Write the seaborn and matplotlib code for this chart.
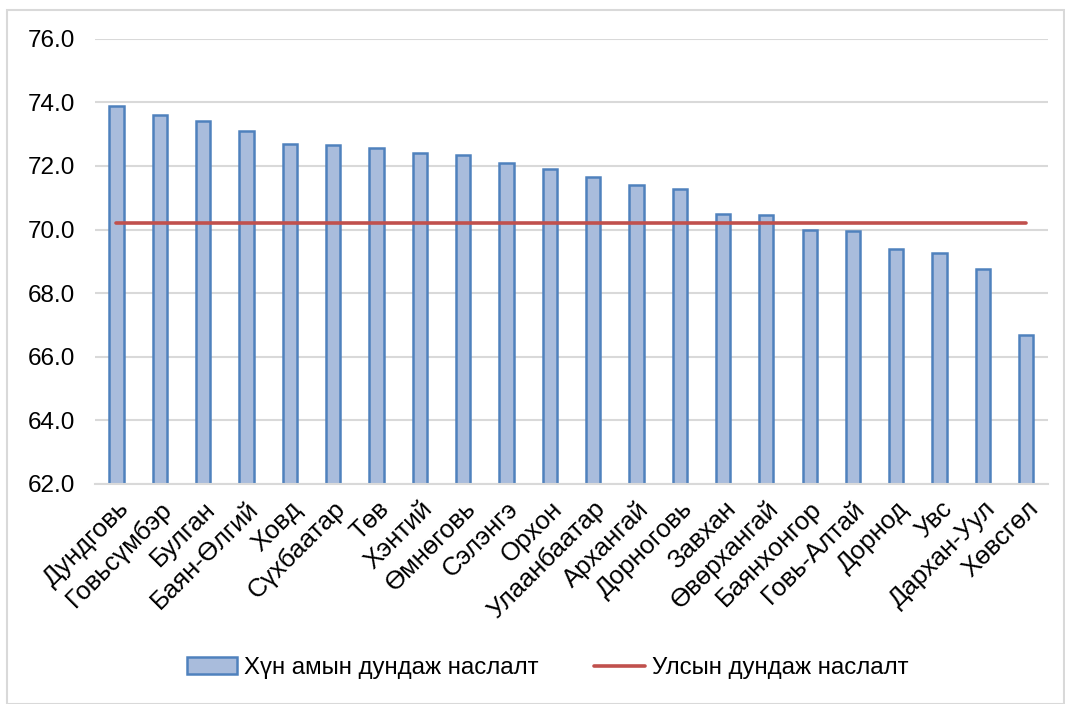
import matplotlib
matplotlib.use("Agg")
import matplotlib.pyplot as plt
import seaborn as sns
from matplotlib.patches import Rectangle, Patch
from matplotlib.lines import Line2D

regions = ["Дундговь", "Говьсүмбэр", "Булган", "Баян-Өлгий", "Ховд", "Сүхбаатар",
           "Төв", "Хэнтий", "Өмнөговь", "Сэлэнгэ", "Орхон", "Улаанбаатар",
           "Архангай", "Дорноговь", "Завхан", "Өвөрхангай", "Баянхонгор",
           "Говь-Алтай", "Дорнод", "Увс", "Дархан-Уул", "Хөвсгөл"]
life_exp = [73.9, 73.6, 73.4, 73.1, 72.7, 72.65, 72.55, 72.4, 72.33, 72.1, 71.9,
            71.65, 71.4, 71.26, 70.5, 70.47, 70.0, 69.95, 69.4, 69.25, 68.76, 66.7]
national_avg = 70.2
yticks = [62, 64, 66, 68, 70, 72, 74, 76]

bar_label = "Хүн амын дундаж наслалт"
line_label = "Улсын дундаж наслалт"

sns.set_style("white")
plt.rcParams["font.family"] = ["Liberation Sans", "DejaVu Sans"]
plt.rcParams["text.color"] = "black"
plt.rcParams["xtick.color"] = "black"
plt.rcParams["ytick.color"] = "black"

fig = plt.figure(figsize=(10.65, 7.04), dpi=100)
ax = fig.add_axes([0.089, 0.3125, 0.895, 0.6325])

sns.barplot(x=regions, y=life_exp, color="#a9bcdc", edgecolor="#4f81bd",
            linewidth=1.8, width=0.33, saturation=1, ax=ax, zorder=2)
sns.lineplot(x=regions, y=[national_avg] * len(regions), sort=False,
             color="#c0504d", linewidth=2.6, ax=ax, zorder=3)

ax.set_ylim(62, 76)
ax.set_xlim(-0.5, len(regions) - 0.5)
ax.set_yticks(yticks)
ax.set_yticklabels([f"{v:.1f}" for v in yticks], fontsize=17.5)
ax.tick_params(axis="y", length=0, pad=14, labelcolor="black")
ax.tick_params(axis="x", length=0, pad=9, labelcolor="black")
plt.setp(ax.get_xticklabels(), rotation=45, ha="right", rotation_mode="anchor",
         fontsize=18.5)
ax.grid(axis="y", color="#d9d9d9", linewidth=1.5, zorder=0)
ax.set_axisbelow(True)
for s in ["top", "right", "left"]:
    ax.spines[s].set_visible(False)
ax.spines["bottom"].set_color("#d9d9d9")
ax.spines["bottom"].set_linewidth(1.5)
ax.set_xlabel("")
ax.set_ylabel("")

handles = [Patch(facecolor="#a9bcdc", edgecolor="#4f81bd", linewidth=1.8),
           Line2D([], [], color="#c0504d", linewidth=2.6)]
fig.legend(handles, [bar_label, line_label], loc="center", ncol=2,
           bbox_to_anchor=(0.514, 0.051), frameon=False, fontsize=17.3,
           handlelength=2.1, handletextpad=0.3, columnspacing=2.3,
           labelcolor="black")

fig.patches.append(Rectangle((0.007, 0.0), 0.992, 0.986, transform=fig.transFigure,
                             fill=False, edgecolor="#d9d9d9", linewidth=1.5))

fig.savefig("out.png", dpi=100)
